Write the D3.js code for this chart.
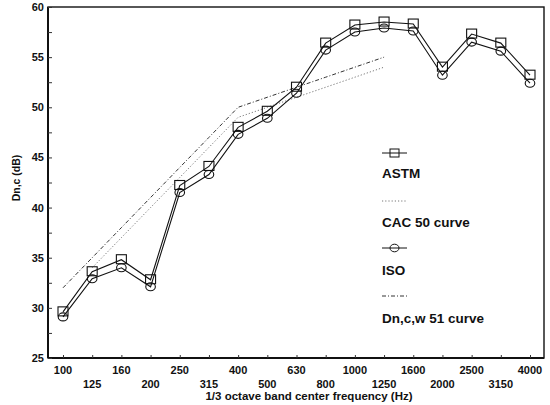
<!DOCTYPE html>
<html><head><meta charset="utf-8">
<script src="https://cdn.jsdelivr.net/npm/d3@7"></script>
<style>
body{margin:0;background:#fff;}
text{font-family:"Liberation Sans",Arial,sans-serif;font-weight:bold;fill:#111;}
</style></head>
<body><svg id="c" width="550" height="405"></svg>
<script>
const bands = ["100","125","160","200","250","315","400","500","630","800","1000","1250","1600","2000","2500","3150","4000"];
const astm = [29.6,33.6,34.8,32.8,42.2,44.1,48.0,49.6,52.0,56.4,58.2,58.5,58.3,54.0,57.3,56.4,53.2];
const iso  = [29.1,32.9,34.0,32.1,41.5,43.3,47.3,48.9,51.4,55.7,57.5,57.9,57.6,53.2,56.5,55.6,52.4];
const cacBands = ["125","160","200","250","315","400","500","630","800","1000","1250"];
const cac50 = [34,37,40,43,46,49,50,51,52,53,54];
const dnwBands = ["100","125","160","200","250","315","400","500","630","800","1000","1250"];
const dnw51 = [32,35,38,41,44,47,50,51,52,53,54,55];
const yTicks = [25,30,35,40,45,50,55,60];
const legendItems = ["ASTM","CAC 50 curve","ISO","Dn,c,w 51 curve"];

const svg = d3.select("#c");
const L=48,R=544,T=7,B=358;
const x = d3.scalePoint().domain(bands).range([63,530]);
const y = d3.scaleLinear().domain([25,60]).range([B,T]);

svg.append("rect").attr("x",L).attr("y",T).attr("width",R-L).attr("height",B-T)
  .attr("fill","none").attr("stroke","#111").attr("stroke-width",1.4);
svg.append("line").attr("x1",L).attr("x2",L).attr("y1",T).attr("y2",B).attr("stroke","#111").attr("stroke-width",2);
svg.append("line").attr("x1",L).attr("x2",R).attr("y1",B).attr("y2",B).attr("stroke","#111").attr("stroke-width",1.8);

const yAx = svg.append("g").attr("transform",`translate(${L},0)`)
  .call(d3.axisRight(y).tickValues(d3.range(25,60.1,2.5)).tickSize(4).tickFormat(""));
yAx.select(".domain").remove();
yAx.selectAll("line").attr("stroke","#333");
const yLab = svg.append("g").attr("transform",`translate(${L},0)`)
  .call(d3.axisLeft(y).tickValues(yTicks).tickSize(0).tickPadding(4));
yLab.select(".domain").remove();
yLab.selectAll("text").attr("font-size",11).attr("font-weight","bold").attr("font-family","Liberation Sans, Arial, sans-serif").attr("fill","#111");

const xAx = svg.append("g").attr("transform",`translate(0,${B})`)
  .call(d3.axisTop(x).tickSize(3).tickFormat(""));
xAx.select(".domain").remove();
xAx.selectAll("line").attr("stroke","#333");
svg.append("g").selectAll("text").data(bands).join("text")
  .attr("x",d=>x(d)).attr("y",(d,i)=>i%2===0?374:388)
  .attr("text-anchor","middle").attr("font-size",11).text(d=>d);

svg.append("text").attr("x",309).attr("y",400).attr("text-anchor","middle")
  .attr("font-size",11.5).text("1/3 octave band center frequency (Hz)");
svg.append("text").attr("transform","translate(20,178) rotate(-90)").attr("text-anchor","middle")
  .attr("font-size",10.5).text("Dn,c (dB)");

const line = d3.line();
svg.append("path").attr("d",line(cacBands.map((b,i)=>[x(b),y(cac50[i])])))
  .attr("fill","none").attr("stroke","#777").attr("stroke-width",1).attr("stroke-dasharray","1.2,2");
svg.append("path").attr("d",line(dnwBands.map((b,i)=>[x(b),y(dnw51[i])])))
  .attr("fill","none").attr("stroke","#333").attr("stroke-width",1).attr("stroke-dasharray","4,2,1,2");

function series(vals, shape){
  svg.append("path").attr("d",line(bands.map((b,i)=>[x(b),y(vals[i])])))
    .attr("fill","none").attr("stroke","#111").attr("stroke-width",1.1);
  const g = svg.append("g");
  if(shape==="sq"){
    g.selectAll("rect").data(bands).join("rect")
      .attr("x",(d,i)=>x(d)-5).attr("y",(d,i)=>y(vals[i])-5).attr("width",10).attr("height",9)
      .attr("fill","none").attr("stroke","#111").attr("stroke-width",1.1);
  } else {
    g.selectAll("ellipse").data(bands).join("ellipse")
      .attr("cx",d=>x(d)).attr("cy",(d,i)=>y(vals[i])).attr("rx",4.8).attr("ry",4)
      .attr("fill","none").attr("stroke","#111").attr("stroke-width",1.1);
  }
}
series(astm,"sq");
series(iso,"ci");

const lg = svg.append("g");
const lx=382, lw=25;
const rows=[153,201,248,296];
const txtY=[178,227,275,323];
lg.append("line").attr("x1",lx).attr("x2",lx+lw).attr("y1",rows[0]).attr("y2",rows[0]).attr("stroke","#111");
lg.append("rect").attr("x",lx+lw/2-4.5).attr("y",rows[0]-4).attr("width",9).attr("height",8).attr("fill","none").attr("stroke","#111");
lg.append("line").attr("x1",lx).attr("x2",lx+lw).attr("y1",rows[1]).attr("y2",rows[1]).attr("stroke","#777").attr("stroke-dasharray","1.2,2");
lg.append("line").attr("x1",lx).attr("x2",lx+lw).attr("y1",rows[2]).attr("y2",rows[2]).attr("stroke","#111");
lg.append("ellipse").attr("cx",lx+lw/2).attr("cy",rows[2]).attr("rx",4.5).attr("ry",3.8).attr("fill","none").attr("stroke","#111");
lg.append("line").attr("x1",lx).attr("x2",lx+lw).attr("y1",rows[3]).attr("y2",rows[3]).attr("stroke","#333").attr("stroke-dasharray","4,2,1,2");
lg.selectAll("text.l").data(legendItems).join("text").attr("class","l")
  .attr("x",lx).attr("y",(d,i)=>txtY[i]).attr("font-size",13.5).text(d=>d);
</script></body></html>
